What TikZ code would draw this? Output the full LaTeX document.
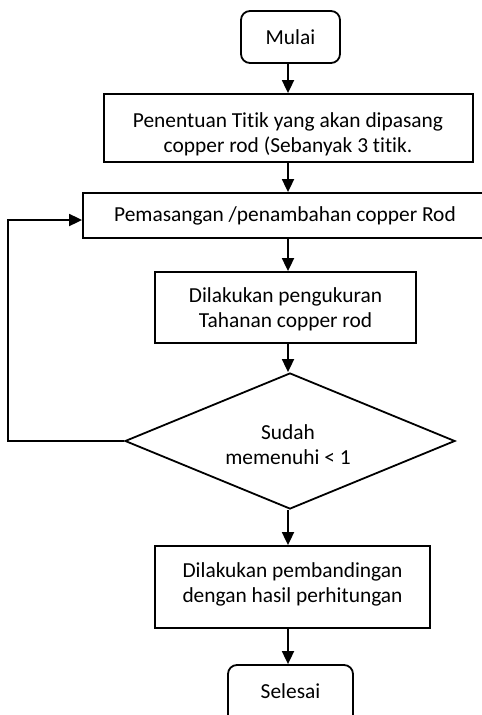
\documentclass[tikz,border=0pt]{standalone}
\usepackage{fontspec}
\setmainfont{Carlito}[Ligatures={NoCommon}]
\usetikzlibrary{arrows.meta,shapes.geometric}
\begin{document}
\begin{tikzpicture}[x=1pt,y=-1pt,
  line width=1.8pt,
  every node/.style={font=\fontsize{21.4}{25}\selectfont, inner sep=0pt, align=center},
  procbox/.style={draw, rectangle, line width=1.8pt},
  termbox/.style={draw, rectangle, rounded corners=9pt, line width=1.8pt},
  arr/.style={-{Triangle[length=13pt,width=12pt]}, line width=1.8pt}]
\path[use as bounding box, clip] (0,0) rectangle (482,715);
\coordinate (axis) at (288,0);
\node[termbox, minimum width=99pt, minimum height=52pt] (mulai) at (290.5,37) {};
\node (tmulai) at (290.5,37) {Mulai};
\node[procbox, minimum width=369pt, minimum height=68pt] (b2) at (288.5,128) {};
\node (t2) at (288,134.5) {Penentuan Titik yang akan dipasang\\copper rod (Sebanyak 3 titik.};
\node[procbox, minimum width=412pt, minimum height=45pt] (b3) at (289,215.5) {};
\node (t3) at (285,215.5) {Pemasangan /penambahan copper Rod};
\node[procbox, minimum width=261pt, minimum height=71pt] (b4) at (285.5,307.5) {};
\node (t4) at (285.5,309.5) {Dilakukan pengukuran\\Tahanan copper rod};
\node[draw, diamond, minimum width=330pt, minimum height=136pt, line width=1.8pt] (dec) at (290,441) {};
\node (tdec) at (288,445) {Sudah\\memenuhi < 1};
\node[procbox, minimum width=275pt, minimum height=82pt] (b5) at (292.5,587) {};
\node (t5) at (292.5,584.5) {Dilakukan pembandingan\\dengan hasil perhitungan};
\node[termbox, minimum width=125pt, minimum height=60pt] (selesai) at (290.5,695) {};
\node (tselesai) at (290.5,691) {Selesai};
\coordinate (loopa) at (8,441);
\coordinate (loopb) at (8,220);
\coordinate (loopc) at (b3.west |- loopb);
\draw[arr] (mulai.south -| axis) -- (b2.north -| axis);
\draw[arr] (b2.south -| axis) -- (b3.north -| axis);
\draw[arr] (b3.south -| axis) -- (b4.north -| axis);
\draw[arr] (b4.south -| axis) -- (dec.north -| axis);
\draw[arr] (dec.south -| axis) -- (b5.north -| axis);
\draw[arr] (b5.south -| axis) -- (selesai.north -| axis);
\draw[arr] (dec.west) -- (loopa) -- (loopb) -- (loopc);
\end{tikzpicture}
\end{document}
